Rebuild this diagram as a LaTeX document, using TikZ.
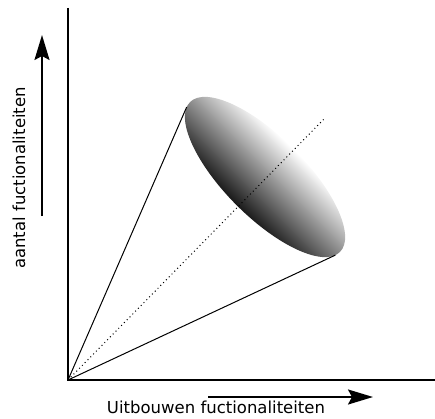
\documentclass[tikz,border=0pt]{standalone}
\usepackage{fontspec}
\setmainfont{DejaVu Sans}
\usetikzlibrary{arrows.meta}
\begin{document}
\begin{tikzpicture}[x=1pt,y=1pt,
  axisline/.style={line width=1.8pt},
  coneline/.style={line width=1pt},
  bigarrow/.style={line width=2pt,-{Stealth[length=25pt,width=15pt,inset=4pt]}},
  lbl/.style={inner sep=0pt,font=\fontsize{16.5pt}{18pt}\selectfont}]
\useasboundingbox (0,0) rectangle (435,418);
% ellipse (shaded)
\begin{scope}[transform canvas={shift={(265pt,241pt)},rotate=-45}]
  \shade[top color=white,bottom color=black!90] (0,0) ellipse [x radius=106pt, y radius=40pt];
\end{scope}
\coordinate (O) at (68,38);
\coordinate (ytop) at (68,410);
\coordinate (xend) at (435,38);
\coordinate (dend) at (325,300);
\coordinate (t1) at (186.7,311);
\coordinate (t2) at (335.4,162.9);
\coordinate (ua) at (42,202);
\coordinate (ub) at (42,383);
\coordinate (ra) at (208,21);
\coordinate (rb) at (373,21);
\draw[axisline] (ytop) -- (O) -- (xend);
\draw[coneline] (O) -- (t1);
\draw[coneline] (O) -- (t2);
\draw[line width=1pt,dash pattern=on 1pt off 3pt] (O) -- (dend);
\draw[bigarrow] (ua) -- (ub);
\draw[bigarrow] (ra) -- (rb);
\node[lbl,anchor=base,rotate=90] (ylab) at (25,240) {aantal fuctionaliteiten};
\node[lbl,anchor=base] (xlab) at (216,5) {Uitbouwen fuctionaliteiten};
\end{tikzpicture}
\end{document}
